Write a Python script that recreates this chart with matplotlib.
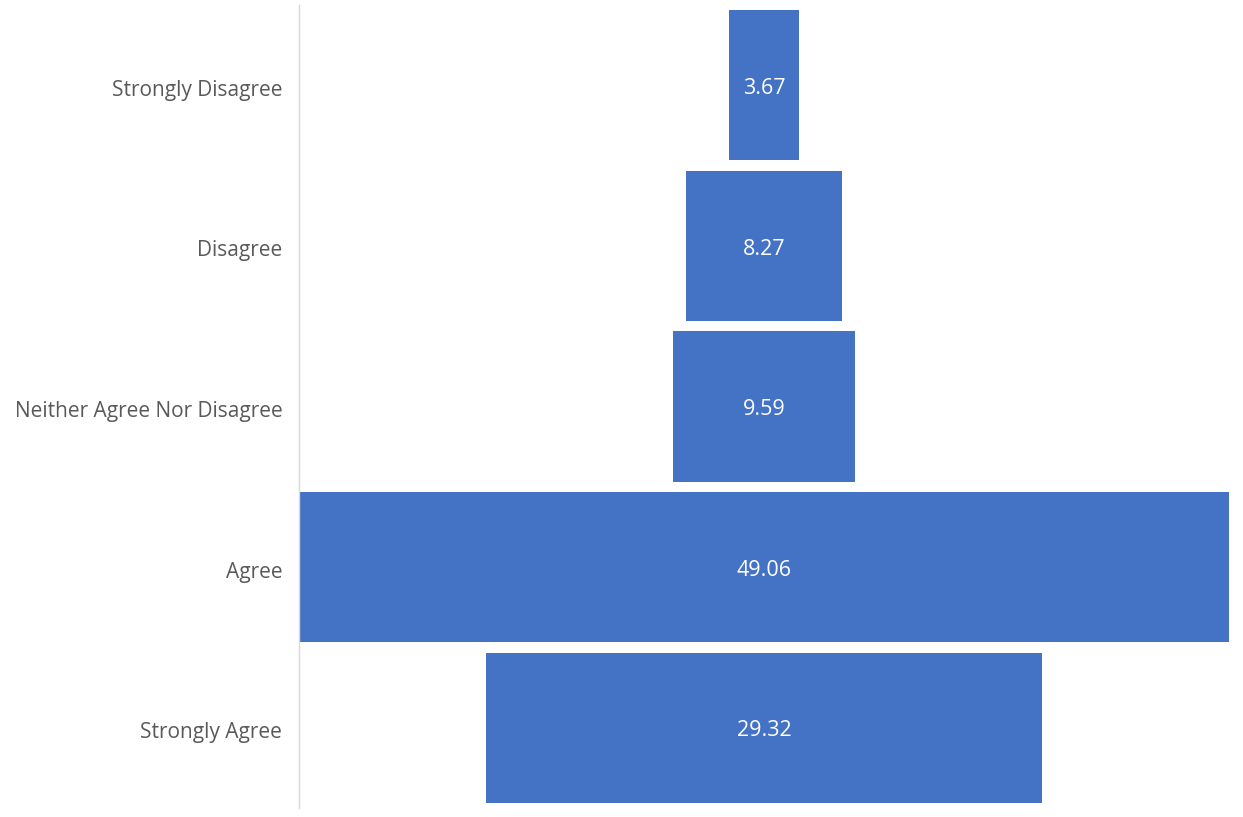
import matplotlib.pyplot as plt

# funnel data
categories = ['Strongly Disagree', 'Disagree', 'Neither Agree Nor Disagree', 'Agree', 'Strongly Agree']
values = [3.67, 8.27, 9.59, 49.06, 29.32]

plt.rcParams['font.family'] = ['Open Sans', 'DejaVu Sans']

fig = plt.figure(figsize=(12.43, 8.17), dpi=100)
ax = fig.add_axes([299/1243, 1 - 808/817, 930/1243, 803/817])

vmax = max(values)
lefts = [(vmax - v) / 2 for v in values]
ypos = range(len(categories))
ax.barh(ypos, values, left=lefts, height=0.934, color='#4472C4')

for y, v, l in zip(ypos, values, lefts):
    ax.text(l + v / 2, y + 0.02, f'{v:.2f}', ha='center', va='center', color='white', fontsize=15.5)

ax.set_xlim(0, vmax)
ax.set_ylim(len(categories) - 0.5, -0.5)
ax.set_yticks([y + 0.015 for y in ypos])
ax.set_yticklabels(categories, fontsize=15, color='#595959')
ax.tick_params(axis='y', length=0, pad=12)
ax.set_xticks([])

for s in ['top', 'right', 'bottom']:
    ax.spines[s].set_visible(False)
ax.spines['left'].set_color('#D9D9D9')
ax.spines['left'].set_linewidth(1)

fig.savefig('out.png', dpi=100)
